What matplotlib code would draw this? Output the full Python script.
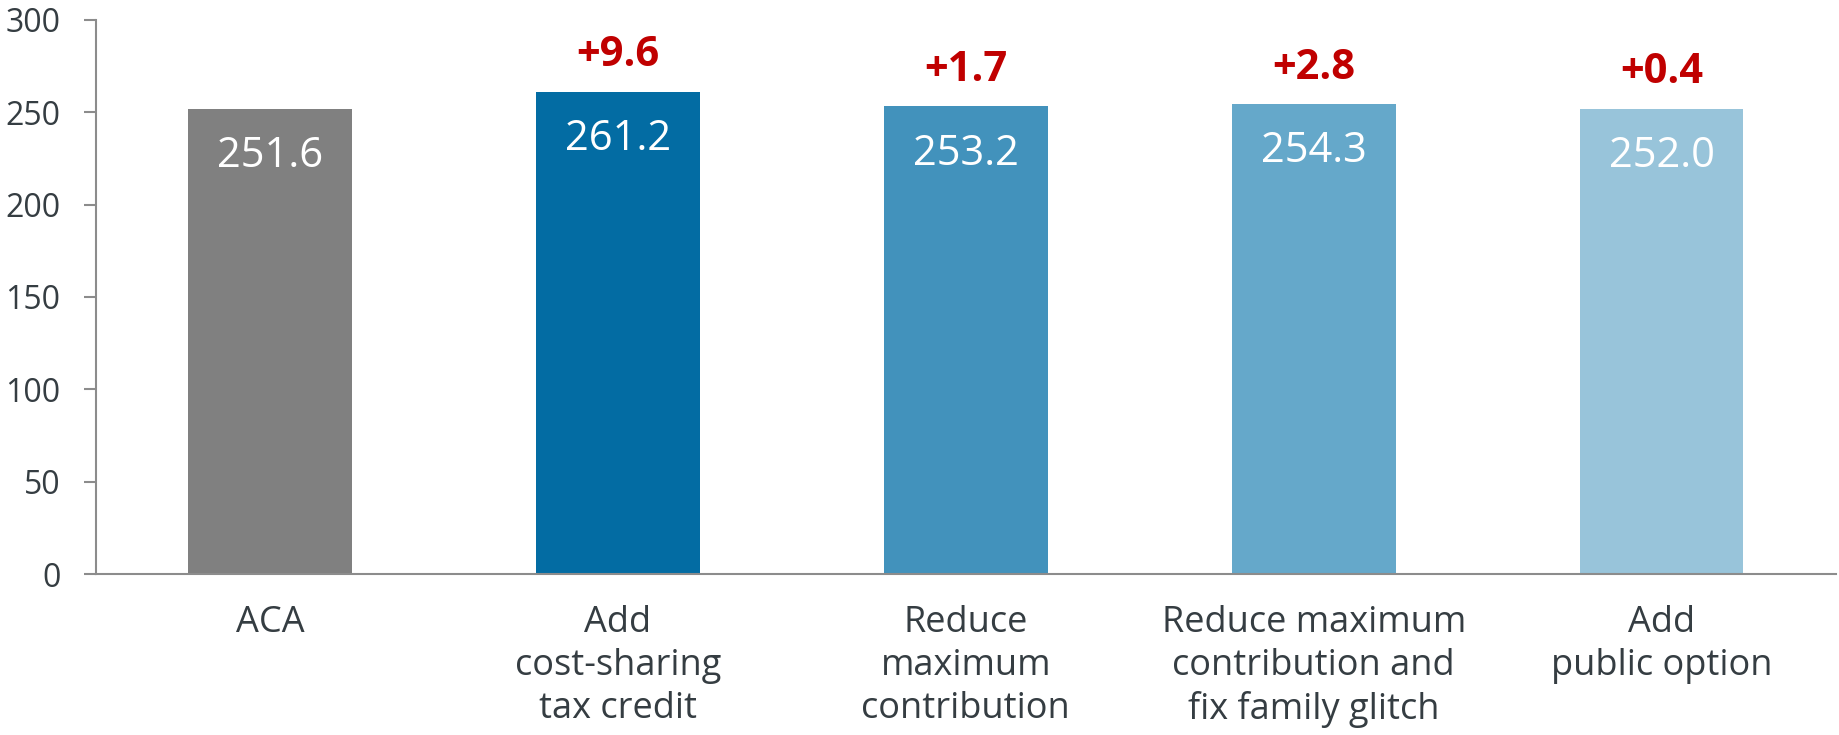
import numpy as np
import matplotlib

matplotlib.use("Agg")
import matplotlib.pyplot as plt

plt.rcParams["font.family"] = ["Open Sans", "DejaVu Sans"]

categories = [
    "ACA",
    "Add\ncost-sharing\ntax credit",
    "Reduce\nmaximum\ncontribution",
    "Reduce maximum\ncontribution and\nfix family glitch",
    "Add\npublic option",
]
values = [251.6, 261.2, 253.2, 254.3, 252.0]
changes = [None, "+9.6", "+1.7", "+2.8", "+0.4"]
bar_colors = ["#808080", "#036CA3", "#4292BC", "#65A8CA", "#98C4DA"]
yticks = [0, 50, 100, 150, 200, 250, 300]

TEXT = "#353d42"
AXIS = "#8c8c8c"

fig = plt.figure(figsize=(18.39, 7.35), dpi=100)
ax = fig.add_axes([0.0522, 0.219, 0.946, 0.754])

x = np.arange(len(categories))
bars = ax.bar(x, values, width=0.47, color=bar_colors)

for xi, v in zip(x, values):
    ax.annotate(f"{v:.1f}", (xi, v), xytext=(0, -34), textcoords="offset points",
                ha="center", va="center", color="white", fontsize=30)
for xi, v, c in zip(x, values, changes):
    if c:
        ax.annotate(c, (xi, v), xytext=(0, 26), textcoords="offset points",
                    ha="center", va="center", color="#C00000", fontsize=30,
                    fontweight="bold")

ax.set_xlim(-0.5, len(categories) - 0.5)
ax.set_ylim(0, 300)
ax.set_yticks(yticks)
ax.set_xticks(x)
ax.set_xticklabels(categories, fontsize=26, color=TEXT, linespacing=1.27)
ax.tick_params(axis="x", length=0, pad=22)
ax.tick_params(axis="y", direction="out", length=8.5, width=1.5, color=AXIS,
               labelsize=23, labelcolor=TEXT, pad=17)

for side in ("top", "right"):
    ax.spines[side].set_visible(False)
for side in ("left", "bottom"):
    ax.spines[side].set_color(AXIS)
    ax.spines[side].set_linewidth(1.5)

fig.savefig("out.png", dpi=100)
